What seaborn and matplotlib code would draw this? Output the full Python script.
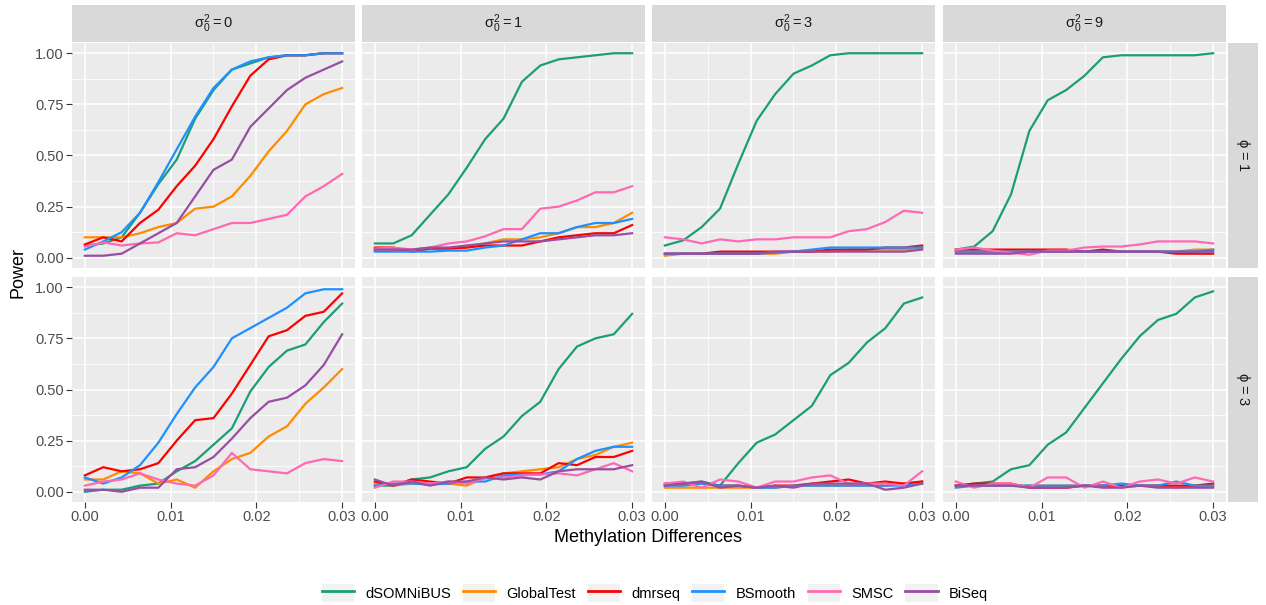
import numpy as np
import pandas as pd
import matplotlib
matplotlib.use("Agg")
import matplotlib.pyplot as plt
import seaborn as sns
from matplotlib.lines import Line2D
from matplotlib.patches import Patch
from matplotlib.legend_handler import HandlerTuple

# methylation differences (x grid)
diffs = [0.0, 0.00214, 0.00429, 0.00643, 0.00857, 0.01071, 0.01286, 0.015,
         0.01714, 0.01929, 0.02143, 0.02357, 0.02571, 0.02786, 0.03]

methods = ["dSOMNiBUS", "GlobalTest", "dmrseq", "BSmooth", "SMSC", "BiSeq"]
method_colors = ["#1B9E77", "#FF8C00", "#FF0000", "#1E90FF", "#FF69B4", "#984EA3"]
sigmas = ["0", "1", "3", "9"]
phis = ["1", "3"]

# phi = 1
s0_phi1 = {
    "dSOMNiBUS": [0.06, 0.07, 0.10, 0.22, 0.36, 0.48, 0.68, 0.82, 0.92, 0.95, 0.98, 0.99, 0.99, 1.00, 1.00],
    "GlobalTest": [0.10, 0.10, 0.10, 0.12, 0.15, 0.17, 0.24, 0.25, 0.30, 0.40, 0.52, 0.62, 0.75, 0.80, 0.83],
    "dmrseq": [0.065, 0.10, 0.08, 0.17, 0.235, 0.35, 0.45, 0.58, 0.74, 0.89, 0.97, 0.99, 0.99, 1.00, 1.00],
    "BSmooth": [0.04, 0.08, 0.125, 0.22, 0.37, 0.53, 0.69, 0.83, 0.92, 0.96, 0.98, 0.99, 0.99, 1.00, 1.00],
    "SMSC": [0.055, 0.075, 0.06, 0.07, 0.075, 0.12, 0.11, 0.14, 0.17, 0.17, 0.19, 0.21, 0.30, 0.35, 0.41],
    "BiSeq": [0.01, 0.01, 0.02, 0.07, 0.12, 0.17, 0.30, 0.43, 0.48, 0.64, 0.73, 0.82, 0.88, 0.92, 0.96],
}
s1_phi1 = {
    "dSOMNiBUS": [0.07, 0.07, 0.11, 0.21, 0.31, 0.44, 0.58, 0.68, 0.86, 0.94, 0.97, 0.98, 0.99, 1.00, 1.00],
    "GlobalTest": [0.035, 0.035, 0.035, 0.045, 0.045, 0.05, 0.07, 0.09, 0.09, 0.10, 0.12, 0.15, 0.15, 0.17, 0.22],
    "dmrseq": [0.05, 0.05, 0.03, 0.045, 0.045, 0.05, 0.06, 0.06, 0.06, 0.08, 0.10, 0.11, 0.12, 0.12, 0.16],
    "BSmooth": [0.03, 0.03, 0.03, 0.03, 0.035, 0.035, 0.05, 0.06, 0.09, 0.12, 0.12, 0.15, 0.17, 0.17, 0.19],
    "SMSC": [0.045, 0.05, 0.04, 0.05, 0.07, 0.08, 0.105, 0.14, 0.14, 0.24, 0.25, 0.28, 0.32, 0.32, 0.35],
    "BiSeq": [0.04, 0.04, 0.04, 0.05, 0.05, 0.06, 0.07, 0.08, 0.08, 0.08, 0.09, 0.10, 0.11, 0.11, 0.12],
}
s3_phi1 = {
    "dSOMNiBUS": [0.06, 0.085, 0.15, 0.24, 0.46, 0.67, 0.80, 0.90, 0.94, 0.99, 1.00, 1.00, 1.00, 1.00, 1.00],
    "GlobalTest": [0.01, 0.02, 0.02, 0.02, 0.02, 0.02, 0.02, 0.03, 0.03, 0.03, 0.04, 0.04, 0.04, 0.04, 0.05],
    "dmrseq": [0.02, 0.02, 0.02, 0.03, 0.03, 0.03, 0.03, 0.03, 0.03, 0.04, 0.04, 0.04, 0.05, 0.05, 0.06],
    "BSmooth": [0.02, 0.02, 0.02, 0.02, 0.02, 0.02, 0.025, 0.03, 0.04, 0.05, 0.05, 0.05, 0.05, 0.05, 0.05],
    "SMSC": [0.10, 0.09, 0.07, 0.09, 0.08, 0.09, 0.09, 0.10, 0.10, 0.10, 0.13, 0.14, 0.175, 0.23, 0.22],
    "BiSeq": [0.02, 0.02, 0.02, 0.02, 0.02, 0.02, 0.03, 0.03, 0.03, 0.03, 0.03, 0.03, 0.03, 0.03, 0.04],
}
s9_phi1 = {
    "dSOMNiBUS": [0.04, 0.055, 0.13, 0.31, 0.62, 0.77, 0.82, 0.89, 0.98, 0.99, 0.99, 0.99, 0.99, 0.99, 1.00],
    "GlobalTest": [0.03, 0.03, 0.03, 0.03, 0.03, 0.03, 0.03, 0.03, 0.03, 0.03, 0.03, 0.03, 0.03, 0.04, 0.04],
    "dmrseq": [0.04, 0.04, 0.04, 0.04, 0.04, 0.04, 0.04, 0.03, 0.04, 0.03, 0.03, 0.03, 0.02, 0.02, 0.02],
    "BSmooth": [0.03, 0.03, 0.03, 0.03, 0.03, 0.03, 0.03, 0.03, 0.03, 0.03, 0.03, 0.03, 0.03, 0.03, 0.04],
    "SMSC": [0.04, 0.05, 0.035, 0.025, 0.015, 0.035, 0.035, 0.05, 0.055, 0.055, 0.065, 0.08, 0.08, 0.08, 0.07],
    "BiSeq": [0.02, 0.02, 0.02, 0.02, 0.03, 0.03, 0.03, 0.03, 0.03, 0.03, 0.03, 0.03, 0.03, 0.03, 0.03],
}

# phi = 3
s0_phi3 = {
    "dSOMNiBUS": [0.00, 0.01, 0.01, 0.03, 0.04, 0.10, 0.15, 0.23, 0.31, 0.49, 0.61, 0.69, 0.72, 0.83, 0.92],
    "GlobalTest": [0.06, 0.06, 0.10, 0.09, 0.04, 0.06, 0.02, 0.10, 0.16, 0.19, 0.27, 0.32, 0.43, 0.51, 0.60],
    "dmrseq": [0.08, 0.12, 0.10, 0.11, 0.14, 0.25, 0.35, 0.36, 0.48, 0.62, 0.76, 0.79, 0.86, 0.88, 0.97],
    "BSmooth": [0.07, 0.04, 0.07, 0.13, 0.24, 0.38, 0.51, 0.61, 0.75, 0.80, 0.85, 0.90, 0.97, 0.99, 0.99],
    "SMSC": [0.03, 0.05, 0.06, 0.09, 0.06, 0.04, 0.03, 0.08, 0.19, 0.11, 0.10, 0.09, 0.14, 0.16, 0.15],
    "BiSeq": [0.01, 0.01, 0.00, 0.02, 0.02, 0.11, 0.12, 0.17, 0.26, 0.36, 0.44, 0.46, 0.52, 0.62, 0.77],
}
s1_phi3 = {
    "dSOMNiBUS": [0.03, 0.03, 0.06, 0.07, 0.10, 0.12, 0.21, 0.27, 0.37, 0.44, 0.60, 0.71, 0.75, 0.77, 0.87],
    "GlobalTest": [0.04, 0.03, 0.04, 0.04, 0.04, 0.03, 0.07, 0.09, 0.10, 0.11, 0.12, 0.16, 0.18, 0.22, 0.24],
    "dmrseq": [0.05, 0.03, 0.06, 0.05, 0.04, 0.07, 0.07, 0.09, 0.09, 0.09, 0.14, 0.13, 0.17, 0.17, 0.20],
    "BSmooth": [0.03, 0.04, 0.04, 0.035, 0.04, 0.05, 0.05, 0.08, 0.085, 0.085, 0.10, 0.16, 0.20, 0.22, 0.22],
    "SMSC": [0.02, 0.05, 0.05, 0.04, 0.05, 0.04, 0.065, 0.07, 0.08, 0.085, 0.09, 0.08, 0.11, 0.14, 0.10],
    "BiSeq": [0.06, 0.03, 0.05, 0.03, 0.05, 0.05, 0.07, 0.06, 0.07, 0.06, 0.10, 0.11, 0.11, 0.11, 0.13],
}
s3_phi3 = {
    "dSOMNiBUS": [0.03, 0.04, 0.05, 0.03, 0.14, 0.24, 0.28, 0.35, 0.42, 0.57, 0.63, 0.73, 0.80, 0.92, 0.95],
    "GlobalTest": [0.02, 0.02, 0.02, 0.02, 0.02, 0.02, 0.02, 0.03, 0.03, 0.03, 0.03, 0.03, 0.03, 0.04, 0.05],
    "dmrseq": [0.04, 0.04, 0.04, 0.03, 0.03, 0.02, 0.03, 0.03, 0.04, 0.05, 0.06, 0.04, 0.05, 0.04, 0.05],
    "BSmooth": [0.03, 0.03, 0.04, 0.03, 0.03, 0.02, 0.02, 0.03, 0.03, 0.03, 0.03, 0.03, 0.03, 0.03, 0.04],
    "SMSC": [0.04, 0.05, 0.02, 0.06, 0.05, 0.02, 0.05, 0.05, 0.07, 0.08, 0.04, 0.04, 0.04, 0.03, 0.10],
    "BiSeq": [0.03, 0.04, 0.05, 0.02, 0.03, 0.02, 0.03, 0.02, 0.04, 0.04, 0.04, 0.04, 0.01, 0.02, 0.04],
}
s9_phi3 = {
    "dSOMNiBUS": [0.03, 0.04, 0.05, 0.11, 0.13, 0.23, 0.29, 0.41, 0.53, 0.65, 0.76, 0.84, 0.87, 0.95, 0.98],
    "GlobalTest": [0.03, 0.03, 0.03, 0.03, 0.03, 0.03, 0.03, 0.03, 0.03, 0.02, 0.03, 0.03, 0.02, 0.03, 0.03],
    "dmrseq": [0.03, 0.04, 0.04, 0.04, 0.02, 0.02, 0.02, 0.03, 0.03, 0.03, 0.03, 0.03, 0.03, 0.03, 0.04],
    "BSmooth": [0.02, 0.03, 0.03, 0.03, 0.03, 0.03, 0.03, 0.03, 0.03, 0.04, 0.03, 0.03, 0.05, 0.03, 0.03],
    "SMSC": [0.05, 0.02, 0.04, 0.04, 0.02, 0.07, 0.07, 0.02, 0.05, 0.02, 0.05, 0.06, 0.04, 0.07, 0.05],
    "BiSeq": [0.03, 0.03, 0.03, 0.03, 0.02, 0.02, 0.02, 0.03, 0.02, 0.02, 0.03, 0.02, 0.02, 0.02, 0.02],
}

panels = {
    ("1", "0"): s0_phi1, ("1", "1"): s1_phi1, ("1", "3"): s3_phi1, ("1", "9"): s9_phi1,
    ("3", "0"): s0_phi3, ("3", "1"): s1_phi3, ("3", "3"): s3_phi3, ("3", "9"): s9_phi3,
}

rows = []
for (phi, sig), d in panels.items():
    for m in methods:
        for x, y in zip(diffs, d[m]):
            rows.append((phi, sig, m, x, y))
df = pd.DataFrame(rows, columns=["phi", "sigma", "method", "diff", "power"])

plt.rcParams["font.family"] = ["Liberation Sans", "DejaVu Sans"]
plt.rcParams["mathtext.fontset"] = "custom"
plt.rcParams["mathtext.rm"] = "Liberation Sans"
plt.rcParams["mathtext.it"] = "Liberation Sans"

W, H = 1266, 605
fig = plt.figure(figsize=(W / 100, H / 100), dpi=100)
palette = dict(zip(methods, method_colors))

col_x = [72, 362, 652, 943]
pw = 283
row_y = [43, 277]
ph = 225

for i, phi in enumerate(phis):
    for j, sig in enumerate(sigmas):
        ax = fig.add_axes([col_x[j] / W, 1 - (row_y[i] + ph) / H, pw / W, ph / H])
        sub = df[(df.phi == phi) & (df.sigma == sig)]
        sns.lineplot(data=sub, x="diff", y="power", hue="method", hue_order=methods,
                     palette=palette, estimator=None, lw=1.6, legend=False, ax=ax)
        ax.set_facecolor("#EBEBEB")
        ax.set_xlim(-0.0015, 0.0315)
        ax.set_ylim(-0.05, 1.05)
        ax.set_xticks([0, 0.01, 0.02, 0.03])
        ax.set_xticks([0.005, 0.015, 0.025], minor=True)
        ax.set_yticks([0, 0.25, 0.5, 0.75, 1.0])
        ax.set_yticks([0.125, 0.375, 0.625, 0.875], minor=True)
        ax.grid(which="major", color="white", lw=1.1)
        ax.grid(which="minor", color="white", lw=0.55)
        ax.set_axisbelow(True)
        for s in ax.spines.values():
            s.set_visible(False)
        ax.set_xlabel("")
        ax.set_ylabel("")
        ax.tick_params(which="minor", length=0)
        ax.tick_params(which="major", colors="#333333", labelcolor="#4D4D4D",
                       labelsize=10.5, length=4, width=0.8, pad=2)
        if j == 0:
            ax.set_yticklabels(["0.00", "0.25", "0.50", "0.75", "1.00"])
        else:
            ax.tick_params(axis="y", length=0, labelleft=False)
        if i == 1:
            ax.set_xticklabels(["0.00", "0.01", "0.02", "0.03"])
        else:
            ax.tick_params(axis="x", length=0, labelbottom=False)

        if i == 0:
            st = fig.add_axes([col_x[j] / W, 1 - 42 / H, pw / W, 37 / H])
            st.set_facecolor("#D9D9D9")
            st.set_xticks([])
            st.set_yticks([])
            for s in st.spines.values():
                s.set_visible(False)
            st.text(0.5, 0.5, r"$\sigma_0^2 = %s$" % sig, ha="center", va="center",
                    fontsize=10.5, color="#1A1A1A", transform=st.transAxes)
    rs = fig.add_axes([1228 / W, 1 - (row_y[i] + ph) / H, 30 / W, ph / H])
    rs.set_facecolor("#D9D9D9")
    rs.set_xticks([])
    rs.set_yticks([])
    for s in rs.spines.values():
        s.set_visible(False)
    rs.text(0.5, 0.5, r"$\phi$ = %s" % phi, ha="center", va="center", rotation=-90,
            fontsize=10.5, color="#1A1A1A", transform=rs.transAxes)

fig.text(18 / W, 1 - 272 / H, "Power", rotation=90, ha="center", va="center", fontsize=13)
fig.text(648 / W, 1 - 538 / H, "Methylation Differences", ha="center", va="center", fontsize=13)

# legend keys with light grey background like ggplot
handles = [(Patch(facecolor="#F2F2F2", edgecolor="none"), Line2D([0], [0], color=c, lw=2))
           for c in method_colors]
fig.legend(handles, methods, loc="center", bbox_to_anchor=(655 / W, 1 - 593 / H), ncol=6,
           frameon=False, handlelength=2.2, handleheight=1.6, handletextpad=0.8,
           columnspacing=0.8, fontsize=10.5,
           handler_map={tuple: HandlerTuple(ndivide=1, pad=0)})

fig.savefig("out.png", dpi=100)
